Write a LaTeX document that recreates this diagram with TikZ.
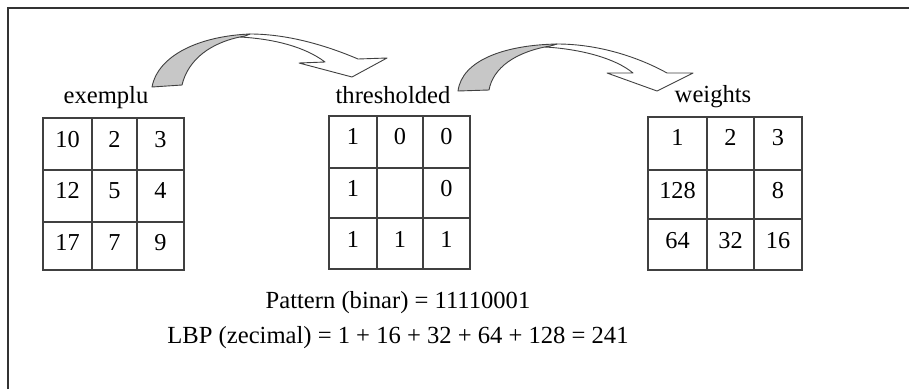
\documentclass[tikz,border=0pt]{standalone}
\usepackage{fontspec}
\setmainfont{Liberation Serif}
\begin{document}
\begin{tikzpicture}[x=1pt,y=-1pt,
  frameline/.style={draw=black!80, line width=2.4pt},
  gridline/.style={draw=black!75, line width=1.4pt},
  cell/.style={anchor=base, inner sep=0pt, font=\fontsize{24.3}{28}\selectfont},
  caption/.style={anchor=base, inner sep=0pt, font=\fontsize{24.6}{28}\selectfont},
  backband/.style={fill=black!22, draw=black!75, line width=0.9pt, line join=round},
  frontband/.style={fill=white, draw=black!75, line width=0.9pt, line join=round}]
\useasboundingbox (0,0) rectangle (909,389);

% open frame: left and top edges only
\draw[frameline] (8,389) -- (8,8) -- (909,8);

% 3x3 grids
\draw[gridline] (43,118) rectangle (184,270)
  (92,118) -- (92,270) (137,118) -- (137,270)
  (43,170) -- (184,170) (43,222) -- (184,222);
\draw[gridline] (329,116) rectangle (470,269)
  (377,116) -- (377,269) (423,116) -- (423,269)
  (329,168) -- (470,168) (329,218) -- (470,218);
\draw[gridline] (648,117) rectangle (802,270)
  (707,117) -- (707,270) (754,117) -- (754,270)
  (648,170) -- (802,170) (648,219) -- (802,219);

% grid titles
\node[caption] (tA) at (106,103) {exemplu};
\node[caption] (tB) at (393,103) {thresholded};
\node[caption] (tC) at (713,102) {weights};

% input neighbourhood
\node[cell] (a11) at (67.5,147) {10};
\node[cell] (a12) at (114.5,147) {2};
\node[cell] (a13) at (160.5,147) {3};
\node[cell] (a21) at (67.5,198) {12};
\node[cell] (a22) at (114.5,198) {5};
\node[cell] (a23) at (160.5,198) {4};
\node[cell] (a31) at (67.5,250) {17};
\node[cell] (a32) at (114.5,250) {7};
\node[cell] (a33) at (160.5,250) {9};

% thresholded values
\node[cell] (b11) at (353,144) {1};
\node[cell] (b12) at (400,144) {0};
\node[cell] (b13) at (446.5,144) {0};
\node[cell] (b21) at (353,196) {1};
\node[cell] (b23) at (446.5,196) {0};
\node[cell] (b31) at (353,247) {1};
\node[cell] (b32) at (400,247) {1};
\node[cell] (b33) at (446.5,247) {1};

% weights
\node[cell] (c11) at (677.5,145) {1};
\node[cell] (c12) at (730.5,145) {2};
\node[cell] (c13) at (778,145) {3};
\node[cell] (c21) at (677.5,198) {128};
\node[cell] (c23) at (778,198) {8};
\node[cell] (c31) at (677.5,248) {64};
\node[cell] (c32) at (730.5,248) {32};
\node[cell] (c33) at (778,248) {16};

% result lines
\node[caption] (pat) at (398,308) {Pattern (binar) = 11110001};
\node[caption] (lbp) at (398,343) {LBP (zecimal) = 1 + 16 + 32 + 64 + 128 = 241};

% curved block arrow 1
\draw[frontband] (250,34) .. controls (290,34) and (330,47) .. (358,59)
  -- (387,58) -- (352,77) -- (299,63) -- (325,62)
  .. controls (305,47) and (275,39) .. (240,37) -- cycle;
\draw[backband] (152,87) .. controls (158,55) and (200,36) .. (250,34)
  -- (245,36) .. controls (210,42) and (188,60) .. (182,85) -- cycle;

% curved block arrow 2
\draw[frontband] (557,44) .. controls (600,44) and (640,58) .. (667,73)
  -- (693,73) -- (657,91) -- (607,73) -- (633,73)
  .. controls (615,58) and (580,49) .. (545,47) -- cycle;
\draw[backband] (458,91) .. controls (462,60) and (505,45) .. (557,44)
  -- (550,46) .. controls (515,52) and (493,68) .. (489,90) -- cycle;
\end{tikzpicture}
\end{document}
